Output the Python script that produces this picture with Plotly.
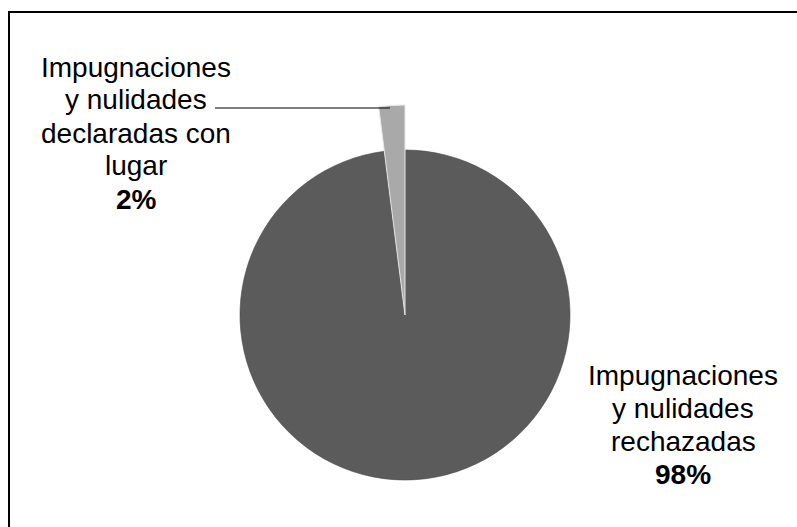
import plotly.graph_objects as go

# ---- data ----
labels = ["Impugnaciones y nulidades declaradas con lugar",
          "Impugnaciones y nulidades rechazadas"]
values = [2, 98]
label_lines = [["Impugnaciones", "y nulidades", "declaradas con", "lugar"],
               ["Impugnaciones", "y nulidades", "rechazadas"]]
colors = ["#a9a9a9", "#5b5b5b"]

W, H = 797, 527

def px(x):
    return x / W

def py(y):
    return 1 - y / H

fig = go.Figure()

# main pie (radius ~165 centred at 405,315)
fig.add_trace(go.Pie(
    labels=labels, values=values, sort=False, direction="clockwise",
    rotation=-7.2, marker=dict(colors=colors, line=dict(color="#4a4a4a", width=0.6)),
    textinfo="none", hoverinfo="label+percent", showlegend=False,
    domain=dict(x=[px(240), px(570)], y=[py(480), py(150)]),
))
# the small slice extends further out
fig.add_trace(go.Pie(
    labels=labels, values=values, sort=False, direction="clockwise",
    rotation=-7.2, marker=dict(colors=[colors[0], "rgba(0,0,0,0)"],
                               line=dict(color=["#e8e8e8", "rgba(0,0,0,0)"], width=[1, 0])),
    textinfo="none", hoverinfo="skip", showlegend=False,
    domain=dict(x=[px(195), px(615)], y=[py(525), py(105)]),
))

font = dict(family="Arial, Liberation Sans, sans-serif", size=28, color="#000000")
pct = [f"{round(v / sum(values) * 100)}%" for v in values]

annots = []
# left label
left_x, left_y0, step = 136, 67, 33
for i, line in enumerate(label_lines[0] + [f"<b>{pct[0]}</b>"]):
    annots.append(dict(x=px(left_x), y=py(left_y0 + i * step), xref="paper", yref="paper",
                       text=line, showarrow=False, font=font, xanchor="center", yanchor="middle"))
# right label
right_x, right_y0 = 683, 375
for i, line in enumerate(label_lines[1] + [f"<b>{pct[1]}</b>"]):
    annots.append(dict(x=px(right_x), y=py(right_y0 + i * step), xref="paper", yref="paper",
                       text=line, showarrow=False, font=font, xanchor="center", yanchor="middle"))

shapes = [
    dict(type="line", xref="paper", yref="paper", x0=px(215), x1=px(390), y0=py(108), y1=py(108),
         line=dict(color="#000000", width=1.2)),
    dict(type="rect", xref="paper", yref="paper", x0=px(9), x1=px(805), y0=py(12), y1=py(535),
         line=dict(color="#000000", width=2), fillcolor="rgba(0,0,0,0)"),
]

fig.update_layout(
    width=W, height=H, margin=dict(l=0, r=0, t=0, b=0),
    paper_bgcolor="white", plot_bgcolor="white",
    annotations=annots, shapes=shapes,
)

fig.write_html("out.html")
